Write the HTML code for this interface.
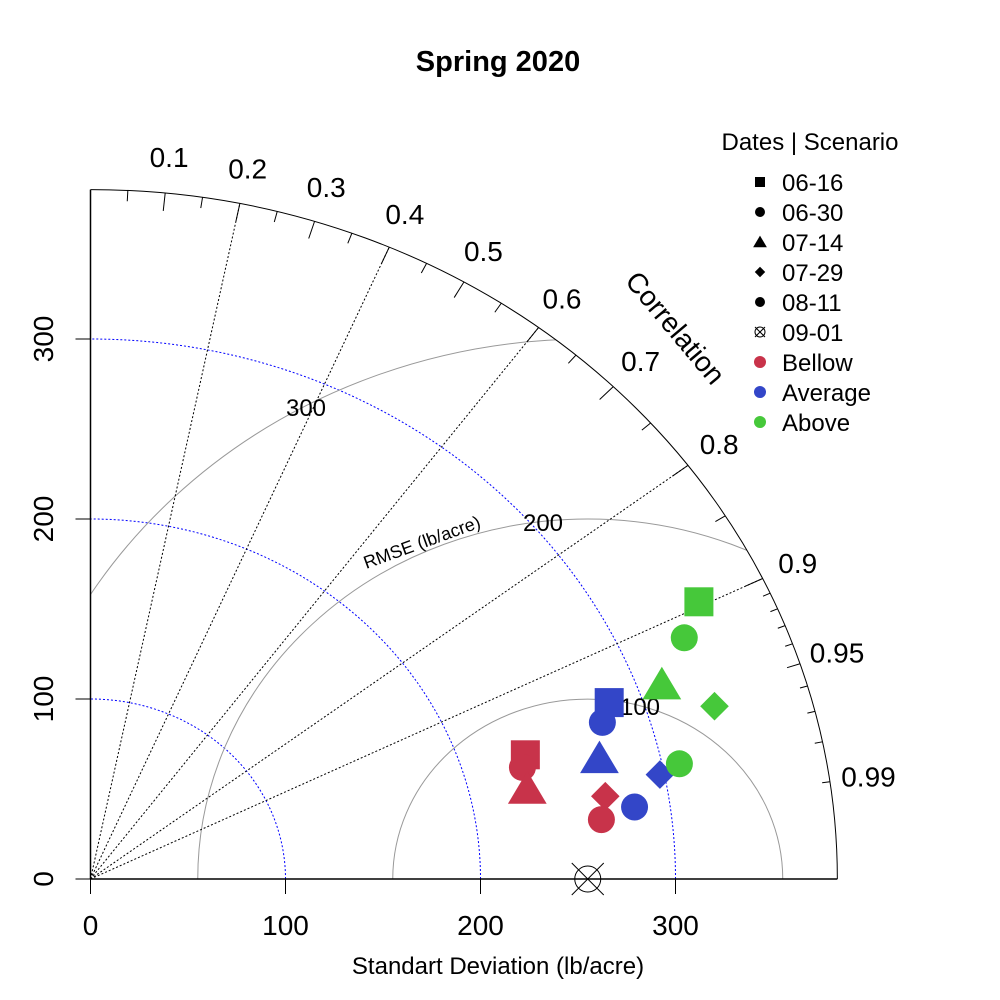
<!DOCTYPE html>
<html><head><meta charset="utf-8"><style>
html,body{margin:0;padding:0;background:#fff}
svg{display:block}
text{font-family:"Liberation Sans",Arial,sans-serif}
</style></head><body>
<svg id="c" width="1000" height="1000" viewBox="0 0 1000 1000">
<text x="498" y="71" text-anchor="middle" font-size="29" font-weight="bold">Spring 2020</text>
<g id="grid"></g>
<g id="marks"></g>
<g id="legend"></g>
</svg>
<script>
const maxSD = 383;
const refSD = 255;
const sdTicks = [0, 100, 200, 300];
const corrLabels = [0.1,0.2,0.3,0.4,0.5,0.6,0.7,0.8,0.9,0.95,0.99];
const corrLines = [0.2,0.4,0.6,0.8,0.9];
const rmseLevels = [100,200,300];
const scenarios = ["Bellow","Average","Above"];
const scenarioColors = ["#C8334A","#3346C8","#46C83A"];
const dates = ["06-16","06-30","07-14","07-29","08-11"];
const shapes = ["square","circle","triangle","diamond","circle"];
// x/y components (lb/acre) per scenario, per date
const bellowX = [223, 221.5, 224, 264, 262];
const bellowY = [69, 62, 50, 46, 33];
const averageX = [266, 262.5, 261, 292, 279];
const averageY = [98, 87, 67, 58, 40];
const aboveX = [312, 304.5, 293, 320, 302];
const aboveY = [154, 134, 108, 96, 64];

const X0=90.5, Y0=879, KX=1.95, KY=1.8;
const sx = v => X0 + v*KX;
const sy = v => Y0 - v*KY;
const NS="http://www.w3.org/2000/svg";
function mk(tag, attrs, parent){const e=document.createElementNS(NS,tag);for(const k in attrs)e.setAttribute(k,attrs[k]);parent.appendChild(e);return e;}
const grid=document.getElementById('grid'), marks=document.getElementById('marks'), leg=document.getElementById('legend');
function polar(r,c){const a=Math.acos(c);return [sx(r*Math.cos(a)), sy(r*Math.sin(a))];}

const defs=mk('defs',{},grid);
const cp=mk('clipPath',{id:'clipq'},defs);
mk('path',{d:`M${X0},${Y0} L${sx(maxSD)},${Y0} A${maxSD*KX},${maxSD*KY} 0 0 0 ${X0},${sy(maxSD)} Z`},cp);

sdTicks.slice(1).forEach(r=>{
  const p=mk('path',{d:`M${sx(r)},${Y0} A${r*KX},${r*KY} 0 0 0 ${X0},${sy(r)}`,fill:'none',stroke:'#0000ff','stroke-width':1,'stroke-dasharray':'2,2'},grid);
  
  
});
const rg=mk('g',{'clip-path':'url(#clipq)'},grid);
rmseLevels.forEach(r=>{
  const x1=refSD-r, x2=refSD+r;
  const p=mk('path',{d:`M${sx(x2)},${Y0} A${r*KX},${r*KY} 0 0 0 ${sx(x1)},${Y0}`,fill:'none',stroke:'#999','stroke-width':1},rg);
  
  
});
corrLines.forEach(c=>{
  const [x,y]=polar(maxSD,c);
  const l=mk('line',{x1:X0,y1:Y0,x2:x,y2:y,stroke:'#000','stroke-width':1,'stroke-dasharray':'2,2'},grid);
  
  
});
const oa=mk('path',{d:`M${sx(maxSD)},${Y0} A${maxSD*KX},${maxSD*KY} 0 0 0 ${X0},${sy(maxSD)}`,fill:'none',stroke:'#000','stroke-width':1},grid);


mk('line',{x1:X0,y1:Y0,x2:X0,y2:sy(maxSD),stroke:'#000','stroke-width':1.5},grid);
mk('line',{x1:X0,y1:Y0,x2:sx(maxSD),y2:Y0,stroke:'#000','stroke-width':1.5},grid);
const majors=[0.1,0.2,0.3,0.4,0.5,0.6,0.7,0.8,0.9];
const minors=[0.05,0.15,0.25,0.35,0.45,0.55,0.65,0.75,0.85,0.91,0.92,0.93,0.94,0.96,0.97,0.98,0.99];
majors.forEach(c=>{const[a,b]=polar(maxSD,c),[d,e]=polar(maxSD-10,c);mk('line',{x1:a,y1:b,x2:d,y2:e,stroke:'#000'},grid);});
minors.forEach(c=>{const L=c>0.9?4:6;const[a,b]=polar(maxSD,c),[d,e]=polar(maxSD-L,c);mk('line',{x1:a,y1:b,x2:d,y2:e,stroke:'#000'},grid);});
{const[a,b]=polar(maxSD,0.95),[d,e]=polar(maxSD-7,0.95);mk('line',{x1:a,y1:b,x2:d,y2:e,stroke:'#000'},grid);}
corrLabels.forEach(c=>{
  const [x,y]=polar(maxSD+20,c);
  const t=mk('text',{x:x,y:y+10,'text-anchor':'middle','font-size':28},grid);
  t.textContent=String(c);
  
  
});
const ct=mk('text',{x:0,y:0,'text-anchor':'middle','font-size':28,transform:'translate(668,334) rotate(50)'},grid);
ct.textContent='Correlation';


sdTicks.forEach(v=>{
  mk('line',{x1:sx(v),y1:Y0,x2:sx(v),y2:Y0+15,stroke:'#000'},grid);
  mk('line',{x1:X0,y1:sy(v),x2:X0-15,y2:sy(v),stroke:'#000'},grid);
  const t=mk('text',{x:sx(v),y:935,'text-anchor':'middle','font-size':28},grid);
  t.textContent=v;
  
  
  const t2=mk('text',{x:0,y:0,'text-anchor':'middle','font-size':28,transform:`translate(53,${sy(v)}) rotate(-90)`},grid);
  t2.textContent=v;
  
  
});
const xt=mk('text',{x:498,y:974,'text-anchor':'middle','font-size':24},grid);
xt.textContent='Standart Deviation (lb/acre)';


[[100,640,715],[200,543,531],[300,306,416]].forEach(([v,x,y])=>{
  const t=mk('text',{x:x,y:y,'text-anchor':'middle','font-size':24},grid);
  t.textContent=v;
  
  
});
const rt=mk('text',{x:0,y:0,'text-anchor':'middle','font-size':18,transform:'translate(424,548) rotate(-20)'},grid);
rt.textContent='RMSE (lb/acre)';



function shape(kind,cx,cy,s,fill,parent){
  let e;
  if(kind==='square') e=mk('rect',{x:cx-s,y:cy-s,width:2*s,height:2*s,fill:fill},parent);
  else if(kind==='circle') e=mk('circle',{cx:cx,cy:cy,r:s,fill:fill},parent);
  else if(kind==='triangle') e=mk('polygon',{points:`${cx},${cy-s*1.15} ${cx-s*1.25},${cy+s*0.95} ${cx+s*1.25},${cy+s*0.95}`,fill:fill},parent);
  else e=mk('polygon',{points:`${cx},${cy-s*1.3} ${cx+s*1.3},${cy} ${cx},${cy+s*1.3} ${cx-s*1.3},${cy}`,fill:fill},parent);
  return e;
}
{
  const g=mk('g',{},marks);
  
  
  const cx=sx(refSD),cy=Y0;
  mk('circle',{cx:cx,cy:cy,r:13,fill:'none',stroke:'#000'},g);
  mk('line',{x1:cx-16,y1:cy-16,x2:cx+16,y2:cy+16,stroke:'#000'},g);
  mk('line',{x1:cx-16,y1:cy+16,x2:cx+16,y2:cy-16,stroke:'#000'},g);
}
const allX=[bellowX,averageX,aboveX], allY=[bellowY,averageY,aboveY];
scenarios.forEach((s,si)=>{
  dates.forEach((d,di)=>{
    const k=shapes[di];
    const sz = k==='square'?14.5:(k==='circle'?13.5:(k==='triangle'?15.5:11));
    const e=shape(k,sx(allX[si][di]),sy(allY[si][di]),sz,scenarioColors[si],marks);
    
    
  });
});
const lt=mk('text',{x:810,y:150,'text-anchor':'middle','font-size':24},leg);
lt.textContent='Dates | Scenario';


const legLabels=dates.concat(["09-01"]).concat(scenarios);
legLabels.forEach((lab,i)=>{
  const y=182+i*30;
  const g=mk('g',{},leg);
  
  
  if(i<5){const k=shapes[i];shape(k,760,y,k==='square'?5:(k==='triangle'?5.5:(k==='diamond'?4:5)),'#000',g);}
  else if(i===5){mk('circle',{cx:760,cy:y,r:5,fill:'none',stroke:'#000'},g);mk('line',{x1:755,y1:y-5,x2:765,y2:y+5,stroke:'#000'},g);mk('line',{x1:755,y1:y+5,x2:765,y2:y-5,stroke:'#000'},g);}
  else mk('circle',{cx:760,cy:y,r:6,fill:scenarioColors[i-6]},g);
  const t=mk('text',{x:782,y:y+9,'font-size':24},g);
  t.textContent=lab;
});
</script>
</body></html>
